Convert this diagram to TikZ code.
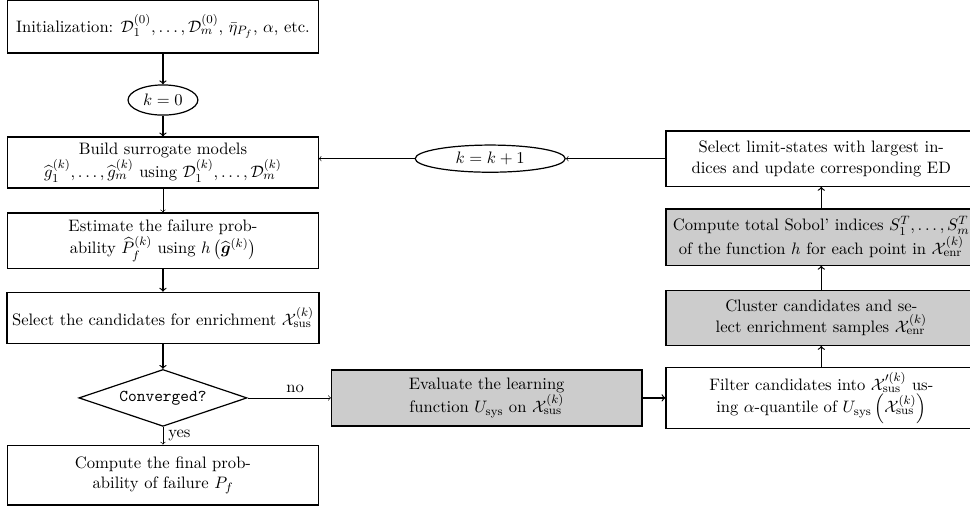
\documentclass[tikz,border=0pt]{standalone}
\usepackage{amsmath,amssymb,bm}
\usetikzlibrary{shapes.geometric}

\begin{document}
\begin{tikzpicture}[font=\fontsize{10.95}{13.6}\selectfont,
  block/.style={draw, thick, minimum width=7.2cm, align=center},
  grayblock/.style={block, fill=gray!40},
  counter/.style={draw, thick, ellipse, inner sep=0pt},
  test/.style={draw, thick, diamond, aspect=3, inner sep=0pt, minimum width=3.9cm, minimum height=1.32cm},
  flow/.style={->, thick}]

\useasboundingbox (0,0) rectangle (22.5,-11.79);

% main loop (left column)
\node at (3.78,-0.615) (init) [block, minimum height=1.23cm] {Initialization: $\mathcal{D}_1^{(0)}, \ldots, \mathcal{D}_m^{(0)}$, $\bar{\eta}_{P_f}$, $\alpha$, etc.};
\node at (3.78,-2.32) (kzero) [counter, minimum width=1.62cm, minimum height=0.70cm] {$k=0$};
\node at (3.78,-3.77) (build) [block, minimum height=1.18cm] {Build surrogate models\\ $\widehat{g}_1^{(k)}, \ldots, \widehat{g}_m^{(k)}$ using $\mathcal{D}_1^{(k)}, \ldots, \mathcal{D}_m^{(k)}$};
\node at (3.78,-5.58) (estim) [block, minimum height=1.28cm] {Estimate the failure prob-\\ability $\widehat{P}_f^{(k)}$ using $h\left(\widehat{\bm{g}}^{(k)}\right)$};
\node at (3.78,-7.37) (cand) [block, minimum height=1.18cm] {Select the candidates for enrichment $\mathcal{X}_{\mathrm{sus}}^{(k)}$};
\node at (3.78,-9.23) (conv) [test] {\texttt{Converged?}};
\node at (3.78,-11.02) (final) [block, minimum height=1.39cm] {Compute the final prob-\\ability of failure $P_f$};
%
\draw [flow] (init) -- (kzero);
\draw [flow] (kzero) -- (build);
\draw [->] (build) -- (estim);
\draw [flow] (estim) -- (cand);
\draw [flow] (cand) -- (conv);
\draw [->] (conv) -- node [right] {yes} (final);

% enrichment (middle and right column)
\node at (11.29,-9.23) (learn) [grayblock, minimum height=1.30cm] {Evaluate the learning\\function $U_{\mathrm{sys}}$ on $\mathcal{X}_{\mathrm{sus}}^{(k)}$};
\node at (19.05,-9.23) (filter) [block, minimum height=1.37cm] {Filter candidates into $\mathcal{X}_{\mathrm{sus}}^{\prime(k)}$ us-\\ing $\alpha$-quantile of $U_{\mathrm{sys}}\left(\mathcal{X}_{\mathrm{sus}}^{(k)}\right)$};
\node at (19.05,-7.37) (cluster) [grayblock, minimum height=1.28cm] {Cluster candidates and se-\\lect enrichment samples $\mathcal{X}_{\mathrm{enr}}^{(k)}$};
\node at (19.05,-5.50) (sobol) [grayblock, minimum height=1.30cm] {Compute total Sobol' indices $S_1^T, \ldots, S_m^T$\\of the function $h$ for each point in $\mathcal{X}_{\mathrm{enr}}^{(k)}$};
\node at (19.05,-3.68) (update) [block, minimum height=1.28cm] {Select limit-states with largest in-\\dices and update corresponding ED};
\node at (11.37,-3.68) (kinc) [counter, minimum width=3.48cm, minimum height=0.63cm] {$k=k+1$};
%
\draw [->] (conv) -- node [above, pos=0.57] {no} (learn);
\draw [flow] (learn) -- (filter);
\draw [flow] (filter) -- (cluster);
\draw [flow] (cluster) -- (sobol);
\draw [flow] (sobol) -- (update);
% back to the surrogates
\draw [->] (update) -- (kinc);
\draw [->] (kinc) -- (build.east |- kinc);
\end{tikzpicture}
\end{document}
